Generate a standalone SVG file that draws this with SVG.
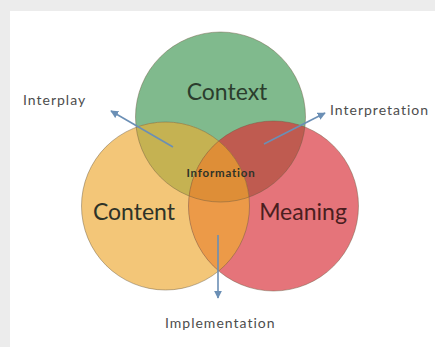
<svg xmlns="http://www.w3.org/2000/svg" width="435" height="347" viewBox="0 0 435 347">
<style>
.lbl{font-family:Lato,"Liberation Sans",sans-serif;fill:#2e3328}
.out{font-family:Lato,"Liberation Sans",sans-serif;fill:#4d4d4d;font-size:14px;letter-spacing:1px}
.ring{fill:none;stroke:#6b5a40;stroke-opacity:0.45;stroke-width:1}
.arr{stroke:#6b8fb5;stroke-width:1.6;fill:none;marker-end:url(#ah)}
</style>
<defs>
<marker id="ah" viewBox="0 0 10 10" refX="9" refY="5" markerWidth="5" markerHeight="5" orient="auto">
<path d="M0,0 L10,5 L0,10 z" fill="#6b8fb5"/>
</marker>
<clipPath id="cG"><circle cx="220.5" cy="117" r="85"/></clipPath>
<clipPath id="cY"><circle cx="165.5" cy="206" r="84"/></clipPath>
<clipPath id="cR"><circle cx="273.5" cy="206" r="85"/></clipPath>
</defs>
<rect x="0" y="0" width="435" height="347" fill="#ececec"/>
<rect x="10" y="11" width="425" height="336" fill="#ffffff"/>
<g id="context">
<circle cx="220.5" cy="117" r="85" fill="#80ba8d"/>
</g>
<g id="content">
<circle cx="165.5" cy="206" r="84" fill="#f3c678"/>
</g>
<g id="meaning">
<circle cx="273.5" cy="206" r="85" fill="#e5747a"/>
</g>
<g id="overlaps">
<g clip-path="url(#cG)"><circle cx="165.5" cy="206" r="84" fill="#c5b252"/></g>
<g clip-path="url(#cG)"><circle cx="273.5" cy="206" r="85" fill="#bf5b50"/></g>
<g clip-path="url(#cY)"><circle cx="273.5" cy="206" r="85" fill="#ec9a48"/></g>
<g clip-path="url(#cG)"><g clip-path="url(#cY)"><circle cx="273.5" cy="206" r="85" fill="#de8e37"/></g></g>
</g>
<g id="outlines">
<circle class="ring" cx="220.5" cy="117" r="85"/>
<circle class="ring" cx="165.5" cy="206" r="84"/>
<circle class="ring" cx="273.5" cy="206" r="85"/>
</g>
<g id="labels">
<text class="lbl" x="227" y="100" font-size="23" text-anchor="middle" style="fill:#2b3d2d">Context</text>
<text class="lbl" x="134" y="220" font-size="23" text-anchor="middle">Content</text>
<text class="lbl" x="303" y="220" font-size="23" text-anchor="middle" style="fill:#4a1e20">Meaning</text>
<text id="information" class="lbl" x="221" y="177" font-size="11.5" font-weight="bold" letter-spacing="0.8" text-anchor="middle">Information</text>
</g>
<g id="connectors">
<line class="arr" x1="173" y1="147" x2="111" y2="111"/>
<line class="arr" x1="264" y1="144" x2="325" y2="113"/>
<line class="arr" x1="218" y1="235" x2="218" y2="298"/>
</g>
<g id="outer-labels">
<text class="out" x="23" y="105">Interplay</text>
<text class="out" x="330" y="115">Interpretation</text>
<text class="out" x="165" y="328">Implementation</text>
</g>
</svg>
